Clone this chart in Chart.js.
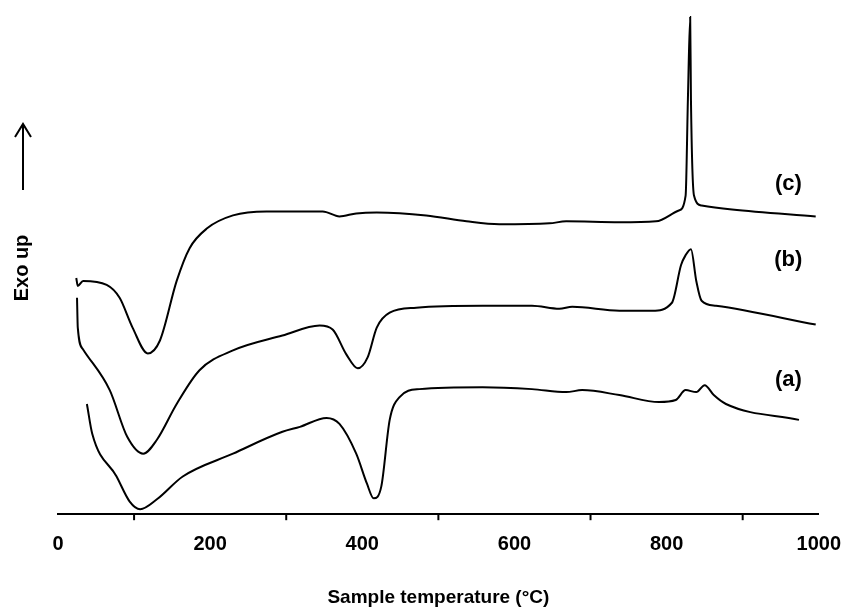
<!DOCTYPE html>
<html>
<head>
<meta charset="utf-8">
<script src="https://cdn.jsdelivr.net/npm/chart.js@4.4.0/dist/chart.umd.min.js"></script>
<style>
  html, body { margin: 0; padding: 0; background: #fff; }
  #wrap { width: 849px; height: 609px; }
</style>
</head>
<body>
<div id="wrap"><canvas id="dscChart"></canvas></div>
<script>
// DSC curves: temperature (°C) and signal (arbitrary units, exo up)
const tempA = [38, 45, 77, 94, 108, 130, 164, 230, 295, 318, 353, 370, 392, 406, 415, 425, 436, 449, 475, 558, 623, 668, 689, 738, 790, 812, 825, 839, 850, 862, 878, 974];
const sigA  = [111, 81, 38, 13, 5, 15, 38, 61, 83, 88, 97, 91, 61, 31, 16, 28, 95, 118, 126, 128, 126, 123, 125, 120, 113, 115, 125, 123, 130, 120, 111, 95];
const tempB = [25, 26, 33, 68, 91, 112, 130, 156, 186, 230, 295, 344, 361, 379, 394, 407, 419, 436, 471, 558, 623, 659, 676, 738, 781, 807, 819, 825, 832, 839, 846, 865, 996];
const sigB  = [218, 188, 166, 125, 78, 61, 75, 111, 145, 165, 180, 190, 186, 161, 147, 158, 188, 203, 208, 210, 210, 207, 209, 205, 205, 213, 251, 261, 267, 235, 215, 210, 191];
const tempC = [24, 26, 33, 64, 81, 98, 118, 134, 156, 173, 196, 230, 274, 348, 370, 392, 419, 484, 537, 580, 646, 668, 738, 786, 816, 825, 828, 831, 832, 836, 846, 886, 996];
const sigC  = [238, 230, 235, 231, 218, 188, 162, 175, 235, 268, 288, 301, 305, 305, 300, 303, 304, 301, 295, 292, 293, 295, 294, 295, 306, 321, 418, 501, 418, 321, 311, 307, 300];
const xTicks = [0, 200, 400, 600, 800, 1000];
const curveLabels = ['(a)', '(b)', '(c)'];
const labelAnchors = [[960, 135], [960, 256], [960, 333]];

const toPoints = (xs, ys) => xs.map((x, i) => ({ x: x, y: ys[i] }));

const lineStyle = {
    borderColor: '#000',
    borderWidth: 2,
    pointRadius: 0,
    fill: false,
    cubicInterpolationMode: 'monotone'
};

const boldFont = 'bold 20px Arial, "Liberation Sans", sans-serif';

const decorPlugin = {
    id: 'decor',
    afterDraw(chart) {
        const ctx = chart.ctx;
        const xs = chart.scales.x;
        const ys = chart.scales.y;
        ctx.save();
        // minor ticks
        ctx.strokeStyle = '#000';
        ctx.lineWidth = 2;
        for (let t = 100; t < 1000; t += 200) {
            const px = xs.getPixelForValue(t);
            ctx.beginPath();
            ctx.moveTo(px, ys.bottom);
            ctx.lineTo(px, ys.bottom + 6);
            ctx.stroke();
        }
        // curve labels
        ctx.fillStyle = '#000';
        ctx.font = 'bold 22px Arial, "Liberation Sans", sans-serif';
        ctx.textAlign = 'center';
        ctx.textBaseline = 'middle';
        curveLabels.forEach((lab, i) => {
            ctx.fillText(lab, xs.getPixelForValue(labelAnchors[i][0]), ys.getPixelForValue(labelAnchors[i][1]));
        });
        // y label with arrow
        ctx.translate(22, 268);
        ctx.rotate(-Math.PI / 2);
        ctx.font = boldFont;
        ctx.fillText('Exo up', 0, 0);
        ctx.restore();
        ctx.save();
        ctx.strokeStyle = '#000';
        ctx.lineWidth = 2;
        ctx.beginPath();
        ctx.moveTo(23, 190);
        ctx.lineTo(23, 124);
        ctx.moveTo(15, 137);
        ctx.lineTo(23, 124);
        ctx.lineTo(31, 137);
        ctx.stroke();
        ctx.restore();
    }
};

new Chart(document.getElementById('dscChart').getContext('2d'), {
    type: 'line',
    data: {
        datasets: [
            Object.assign({ label: '(a)', data: toPoints(tempA, sigA) }, lineStyle),
            Object.assign({ label: '(b)', data: toPoints(tempB, sigB) }, lineStyle),
            Object.assign({ label: '(c)', data: toPoints(tempC, sigC) }, lineStyle)
        ]
    },
    options: {
        responsive: true,
        maintainAspectRatio: false,
        animation: false,
        layout: { padding: { left: 58, right: 22, top: 0, bottom: 0 } },
        scales: {
            x: {
                type: 'linear',
                min: 0,
                max: 1000,
                afterBuildTicks: axis => { axis.ticks = xTicks.map(v => ({ value: v })); },
                grid: { display: false, drawTicks: true, tickLength: 10, tickColor: '#000', tickWidth: 2 },
                border: { color: '#000', width: 2 },
                ticks: {
                    color: '#000',
                    font: { family: 'Arial, "Liberation Sans", sans-serif', size: 20, weight: 'bold' },
                    padding: 8,
                    maxRotation: 0,
                    callback: v => String(v)
                },
                title: {
                    display: true,
                    text: 'Sample temperature (°C)',
                    color: '#000',
                    font: { family: 'Arial, "Liberation Sans", sans-serif', size: 19, weight: 'bold' },
                    padding: { top: 22, bottom: 0 }
                }
            },
            y: {
                min: 0,
                max: 518,
                display: false
            }
        },
        plugins: {
            legend: { display: false },
            tooltip: { enabled: false }
        }
    },
    plugins: [decorPlugin]
});
</script>
</body>
</html>
